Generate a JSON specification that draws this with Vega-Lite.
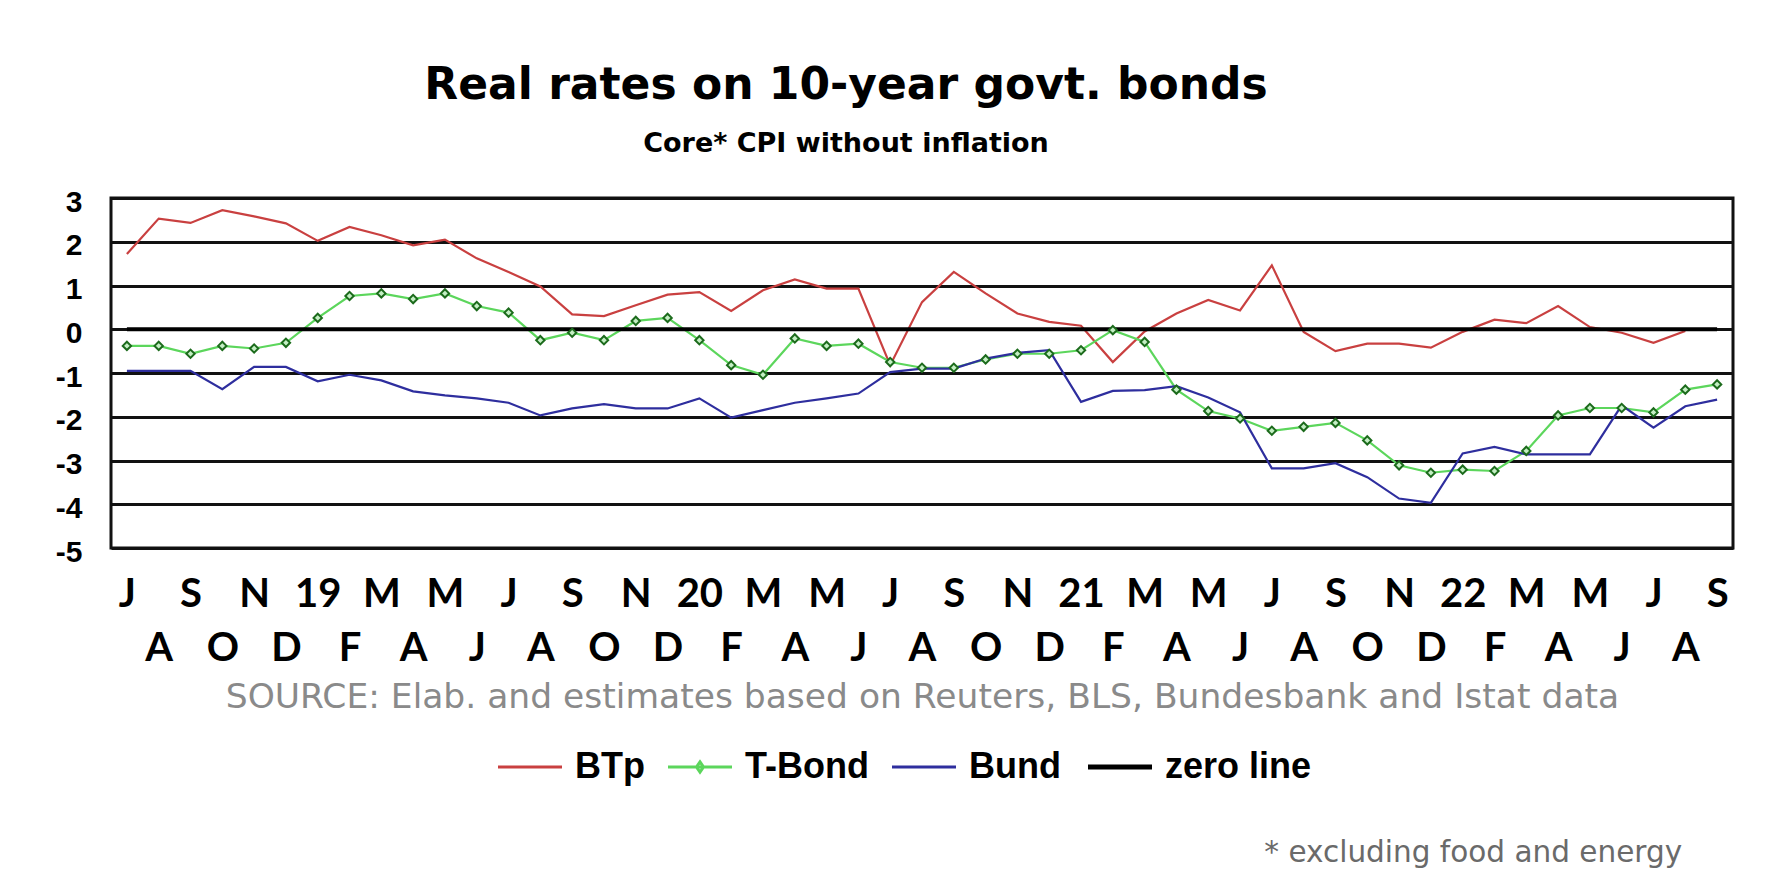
{
  "$schema": "https://vega.github.io/schema/vega-lite/v6.json",
  "width": 1622,
  "height": 350,
  "autosize": {"type": "none"},
  "padding": {"left": 111, "top": 198, "right": 41, "bottom": 345},
  "background": "white",
  "config": {"view": {"stroke": "#111111", "strokeWidth": 3}},
  "title": {
    "text": "Real rates on 10-year govt. bonds",
    "subtitle": "Core* CPI without inflation",
    "font": "DejaVu Sans",
    "fontSize": 44,
    "fontWeight": "bold",
    "color": "black",
    "subtitleFont": "DejaVu Sans",
    "subtitleFontSize": 27,
    "subtitleFontWeight": "bold",
    "subtitleColor": "black",
    "subtitlePadding": 23,
    "anchor": "middle",
    "frame": "group",
    "dx": -76,
    "offset": 30
  },
  "data": {
    "values": [
      {"m": "2018-07", "BTp": 1.72, "T-Bond": -0.38, "Bund": -0.95, "zero line": 0},
      {"m": "2018-08", "BTp": 2.53, "T-Bond": -0.38, "Bund": -0.95, "zero line": 0},
      {"m": "2018-09", "BTp": 2.43, "T-Bond": -0.56, "Bund": -0.95, "zero line": 0},
      {"m": "2018-10", "BTp": 2.72, "T-Bond": -0.38, "Bund": -1.37, "zero line": 0},
      {"m": "2018-11", "BTp": 2.58, "T-Bond": -0.44, "Bund": -0.86, "zero line": 0},
      {"m": "2018-12", "BTp": 2.42, "T-Bond": -0.31, "Bund": -0.86, "zero line": 0},
      {"m": "2019-01", "BTp": 2.02, "T-Bond": 0.26, "Bund": -1.19, "zero line": 0},
      {"m": "2019-02", "BTp": 2.34, "T-Bond": 0.76, "Bund": -1.04, "zero line": 0},
      {"m": "2019-03", "BTp": 2.15, "T-Bond": 0.82, "Bund": -1.17, "zero line": 0},
      {"m": "2019-04", "BTp": 1.92, "T-Bond": 0.69, "Bund": -1.42, "zero line": 0},
      {"m": "2019-05", "BTp": 2.05, "T-Bond": 0.82, "Bund": -1.51, "zero line": 0},
      {"m": "2019-06", "BTp": 1.62, "T-Bond": 0.53, "Bund": -1.58, "zero line": 0},
      {"m": "2019-07", "BTp": 1.31, "T-Bond": 0.38, "Bund": -1.68, "zero line": 0},
      {"m": "2019-08", "BTp": 0.98, "T-Bond": -0.25, "Bund": -1.97, "zero line": 0},
      {"m": "2019-09", "BTp": 0.34, "T-Bond": -0.08, "Bund": -1.81, "zero line": 0},
      {"m": "2019-10", "BTp": 0.30, "T-Bond": -0.25, "Bund": -1.71, "zero line": 0},
      {"m": "2019-11", "BTp": 0.55, "T-Bond": 0.19, "Bund": -1.81, "zero line": 0},
      {"m": "2019-12", "BTp": 0.79, "T-Bond": 0.26, "Bund": -1.81, "zero line": 0},
      {"m": "2020-01", "BTp": 0.85, "T-Bond": -0.25, "Bund": -1.58, "zero line": 0},
      {"m": "2020-02", "BTp": 0.42, "T-Bond": -0.82, "Bund": -2.02, "zero line": 0},
      {"m": "2020-03", "BTp": 0.89, "T-Bond": -1.04, "Bund": -1.85, "zero line": 0},
      {"m": "2020-04", "BTp": 1.14, "T-Bond": -0.21, "Bund": -1.68, "zero line": 0},
      {"m": "2020-05", "BTp": 0.93, "T-Bond": -0.38, "Bund": -1.58, "zero line": 0},
      {"m": "2020-06", "BTp": 0.93, "T-Bond": -0.33, "Bund": -1.47, "zero line": 0},
      {"m": "2020-07", "BTp": -0.82, "T-Bond": -0.75, "Bund": -0.98, "zero line": 0},
      {"m": "2020-08", "BTp": 0.62, "T-Bond": -0.88, "Bund": -0.90, "zero line": 0},
      {"m": "2020-09", "BTp": 1.31, "T-Bond": -0.88, "Bund": -0.90, "zero line": 0},
      {"m": "2020-10", "BTp": 0.82, "T-Bond": -0.69, "Bund": -0.67, "zero line": 0},
      {"m": "2020-11", "BTp": 0.36, "T-Bond": -0.56, "Bund": -0.54, "zero line": 0},
      {"m": "2020-12", "BTp": 0.17, "T-Bond": -0.56, "Bund": -0.48, "zero line": 0},
      {"m": "2021-01", "BTp": 0.08, "T-Bond": -0.48, "Bund": -1.66, "zero line": 0},
      {"m": "2021-02", "BTp": -0.75, "T-Bond": -0.02, "Bund": -1.41, "zero line": 0},
      {"m": "2021-03", "BTp": -0.05, "T-Bond": -0.29, "Bund": -1.39, "zero line": 0},
      {"m": "2021-04", "BTp": 0.36, "T-Bond": -1.38, "Bund": -1.30, "zero line": 0},
      {"m": "2021-05", "BTp": 0.67, "T-Bond": -1.87, "Bund": -1.56, "zero line": 0},
      {"m": "2021-06", "BTp": 0.43, "T-Bond": -2.04, "Bund": -1.90, "zero line": 0},
      {"m": "2021-07", "BTp": 1.46, "T-Bond": -2.32, "Bund": -3.18, "zero line": 0},
      {"m": "2021-08", "BTp": -0.06, "T-Bond": -2.23, "Bund": -3.18, "zero line": 0},
      {"m": "2021-09", "BTp": -0.50, "T-Bond": -2.14, "Bund": -3.06, "zero line": 0},
      {"m": "2021-10", "BTp": -0.33, "T-Bond": -2.54, "Bund": -3.38, "zero line": 0},
      {"m": "2021-11", "BTp": -0.33, "T-Bond": -3.11, "Bund": -3.87, "zero line": 0},
      {"m": "2021-12", "BTp": -0.42, "T-Bond": -3.28, "Bund": -3.97, "zero line": 0},
      {"m": "2022-01", "BTp": -0.06, "T-Bond": -3.21, "Bund": -2.84, "zero line": 0},
      {"m": "2022-02", "BTp": 0.22, "T-Bond": -3.24, "Bund": -2.69, "zero line": 0},
      {"m": "2022-03", "BTp": 0.14, "T-Bond": -2.78, "Bund": -2.86, "zero line": 0},
      {"m": "2022-04", "BTp": 0.53, "T-Bond": -1.97, "Bund": -2.86, "zero line": 0},
      {"m": "2022-05", "BTp": 0.05, "T-Bond": -1.80, "Bund": -2.86, "zero line": 0},
      {"m": "2022-06", "BTp": -0.08, "T-Bond": -1.80, "Bund": -1.74, "zero line": 0},
      {"m": "2022-07", "BTp": -0.31, "T-Bond": -1.90, "Bund": -2.25, "zero line": 0},
      {"m": "2022-08", "BTp": -0.04, "T-Bond": -1.38, "Bund": -1.76, "zero line": 0},
      {"m": "2022-09", "BTp": null, "T-Bond": -1.26, "Bund": -1.61, "zero line": 0}
    ]
  },
  "transform": [
    {"fold": ["BTp", "T-Bond", "Bund", "zero line"], "as": ["s", "v"]},
    {"filter": "datum.v != null"}
  ],
  "layer": [
    {
      "transform": [{"filter": "datum.s != 'zero line'"}],
      "mark": {"type": "line", "strokeWidth": 2.2},
      "encoding": {
        "x": {
          "field": "m",
          "type": "ordinal",
          "sort": null,
          "scale": {"type": "point", "padding": 0.5},
          "axis": {
            "labelExpr": "toNumber(substring(datum.value,5,7)) == 1 ? substring(datum.value,2,4) : ['','J','F','M','A','M','J','J','A','S','O','N','D'][toNumber(substring(datum.value,5,7))]",
            "labelAngle": 0,
            "labelFont": "Lato",
            "labelFontSize": 40,
            "labelFontWeight": "bold",
            "labelColor": "black",
            "labelBaseline": "top",
            "labelAlign": "center",
            "labelPadding": {"condition": {"test": "toNumber(substring(datum.value,5,7)) % 2 == 0", "value": 80}, "value": 26},
            "labelOverlap": false,
            "labelFlush": false,
            "labelBound": false,
            "ticks": false,
            "tickSize": 0,
            "domain": false,
            "grid": false,
            "title": "SOURCE: Elab. and estimates based on Reuters, BLS, Bundesbank  and Istat data",
            "titleFont": "DejaVu Sans",
            "titleFontSize": 34.5,
            "titleFontWeight": "normal",
            "titleColor": "#8a8a8a",
            "titleY": 159,
            "titleBaseline": "alphabetic"
          }
        },
        "y": {
          "field": "v",
          "type": "quantitative",
          "scale": {"domain": [-5, 3], "nice": false, "zero": false},
          "axis": {
            "values": [-5, -4, -3, -2, -1, 0, 1, 2, 3],
            "labelExpr": "'' + datum.value",
            "labelFont": "Liberation Sans",
            "labelFontSize": 30,
            "labelFontWeight": "bold",
            "labelColor": "black",
            "labelPadding": 29,
            "labelOffset": 4,
            "labelFlush": false,
            "labelOverlap": false,
            "ticks": false,
            "tickSize": 0,
            "domain": false,
            "grid": true,
            "gridColor": "#111111",
            "gridWidth": 3,
            "gridOpacity": 1,
            "title": null
          }
        },
        "color": {
          "field": "s",
          "type": "nominal",
          "scale": {"domain": ["BTp", "T-Bond", "Bund", "zero line"], "range": ["#c94040", "#5cd65c", "#2e2e9e", "#000000"]},
          "legend": {
            "orient": "none",
            "legendX": 401,
            "legendY": 551,
            "direction": "horizontal",
            "title": null,
            "padding": 0,
            "labelFont": "Liberation Sans",
            "labelFontSize": 36,
            "labelFontWeight": "bold",
            "labelColor": "black",
            "labelOffset": 27,
            "labelLimit": 400,
            "columnPadding": 17,
            "symbolSize": 4096,
            "symbolStrokeWidth": 3,
            "symbolType": "stroke",
            "encode": {
              "symbols": {
                "update": {
                  "strokeWidth": {"signal": "datum.value === 'zero line' ? 5 : 3"},
                  "shape": {"signal": "datum.value === 'T-Bond' ? 'M-1,0H1M0,-0.16L0.11,0L0,0.16L-0.11,0Z' : 'M-1,0H1'"}
                }
              }
            }
          }
        }
      }
    },
    {
      "transform": [{"filter": "datum.s == 'zero line'"}],
      "mark": {"type": "line", "strokeWidth": 4},
      "encoding": {
        "x": {"field": "m", "type": "ordinal", "sort": null},
        "y": {"field": "v", "type": "quantitative"},
        "color": {"field": "s", "type": "nominal"}
      }
    },
    {
      "transform": [{"filter": "datum.s == 'T-Bond'"}],
      "mark": {"type": "point", "shape": "diamond", "size": 70, "filled": true, "fill": "#c4efc4", "stroke": "#1c6b1c", "strokeWidth": 2, "opacity": 1},
      "encoding": {
        "x": {"field": "m", "type": "ordinal", "sort": null},
        "y": {"field": "v", "type": "quantitative"}
      }
    },
    {
      "data": {"values": [{"note": "* excluding food and energy"}]},
      "mark": {"type": "text", "align": "right", "baseline": "alphabetic", "dx": -35, "font": "DejaVu Sans", "fontSize": 29.5, "color": "#6a6a6a"},
      "encoding": {
        "x": {"datum": "2022-09", "type": "ordinal"},
        "y": {"datum": -12.18, "type": "quantitative"},
        "text": {"field": "note", "type": "nominal"}
      }
    }
  ]
}
